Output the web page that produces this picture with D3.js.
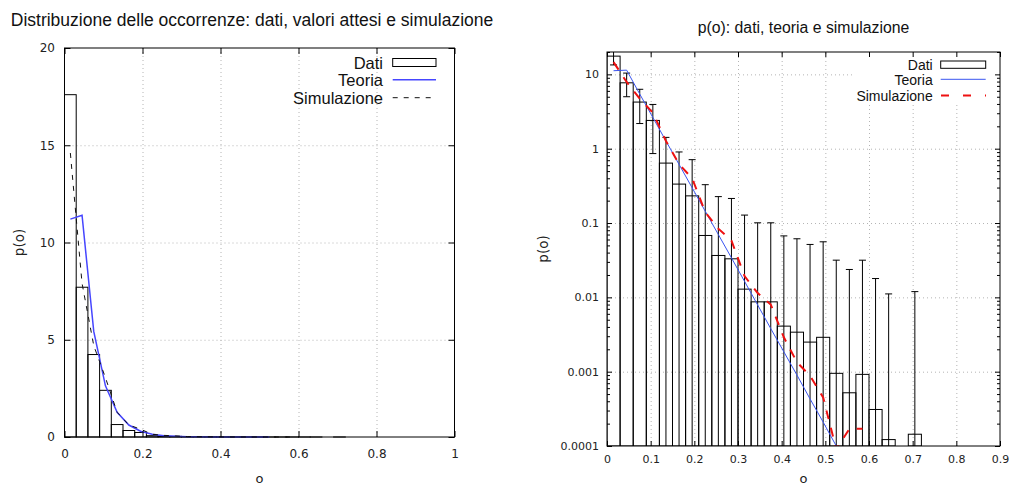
<!DOCTYPE html>
<html><head><meta charset="utf-8">
<script src="https://cdn.jsdelivr.net/npm/d3@7"></script>
<style>body{margin:0;background:#fff} svg{display:block}</style>
</head><body>
<svg id="c" width="1010" height="486"></svg>
<script>
// ---------- data ----------
const oCenters = [0.015,0.045,0.075,0.105,0.135,0.165,0.195,0.225,0.255,0.285,0.315,0.345,
                  0.375,0.405,0.435,0.465,0.495,0.525,0.555,0.585,0.615,0.645,0.675,0.705];
const binWidth = 0.03;
const dataValues = [17.6,7.7,4.24,2.4,0.64,0.334,0.232,0.068,0.0366,0.033,0.0129,0.0087,
                    0.0087,0.0041,0.0034,0.0025,0.0029,0.00095,0.00052,0.00092,0.00031,0.000122,0,0.000144];
const dataErrors = [4.2,2.7,2.06,1.54,0.78,0.57,0.48,0.26,0.19,0.181,0.115,0.092,
                    0.092,0.063,0.058,0.049,0.053,0.0307,0.0232,0.0307,0.0176,0.011,0,0.0118];
const theoryValues = [11.2,11.4,5.43,2.63,1.27,0.615,0.298,0.144,0.070,0.034,0.0164,0.0079,
                      0.0038,0.00185,0.0009,0.00043,0.00021,0.0001];
const simValues = [14.6,7.9,4.7,3.05,1.27,0.62,0.40,0.14,0.084,0.058,0.0193,0.0114,
                   0.008,0.0029,0.00134,0.00088,0.00045,0.00009,0.00017,0.00017];
const leftXTicks = [0,0.2,0.4,0.6,0.8,1];
const leftYTicks = [0,5,10,15,20];
const rightXTicks = [0,0.1,0.2,0.3,0.4,0.5,0.6,0.7,0.8,0.9];
const rightYTicks = [0.0001,0.001,0.01,0.1,1,10];
const rightYLabels = ["0.0001","0.001","0.01","0.1","1","10"];
const legendLabels = ["Dati","Teoria","Simulazione"];
const leftTitle = "Distribuzione delle occorrenze: dati, valori attesi e simulazione";
const rightTitle = "p(o): dati, teoria e simulazione";

// ---------- helpers ----------
const svg = d3.select("#c");
const TICKFONT = "DejaVu Sans";
const TEXTFONT = "Liberation Sans, Arial, sans-serif";
const GRID = "#b4b4b4";
function styleGrid(g){
  g.select(".domain").remove();
  g.selectAll("line").attr("stroke",GRID).attr("stroke-dasharray","1,3");
}
function styleAxis(g,size){
  g.select(".domain").remove();
  g.selectAll("line").attr("stroke","#000");
  g.attr("font-family",TICKFONT).attr("font-size",size);
  g.selectAll("text").attr("fill","#222");
}
const binData = oCenters.map((c,i)=>({c, v:dataValues[i], e:dataErrors[i]}));

// ================= LEFT CHART =================
(function(){
  const X0=64.5, X1=454.5, Y0=437, Y1=48;
  const x = d3.scaleLinear().domain([0,1]).range([X0,X1]);
  const y = d3.scaleLinear().domain([0,20]).range([Y0,Y1]);
  const g = svg.append("g");

  g.append("g").attr("transform",`translate(0,${Y0})`)
    .call(d3.axisBottom(x).tickValues(leftXTicks.slice(1,-1)).tickSize(-(Y0-Y1)).tickFormat(""))
    .call(styleGrid);
  g.append("g").attr("transform",`translate(${X0},0)`)
    .call(d3.axisLeft(y).tickValues(leftYTicks.slice(1,-1)).tickSize(-(X1-X0)).tickFormat(""))
    .call(styleGrid);

  g.append("g").selectAll("rect").data(binData.filter(d=>d.v>0)).join("rect")
    .attr("x",d=>x(d.c-binWidth/2)).attr("width",d=>x(d.c+binWidth/2)-x(d.c-binWidth/2))
    .attr("y",d=>y(d.v)).attr("height",d=>y(0)-y(d.v))
    .attr("fill","none").attr("stroke","#000").attr("stroke-width",1);

  const lineT = d3.line().x((d,i)=>x(oCenters[i])).y(d=>y(d));
  g.append("path").attr("d",lineT(theoryValues)).attr("fill","none")
    .attr("stroke","#4646ff").attr("stroke-width",1.5);
  g.append("path").attr("d",lineT(simValues)).attr("fill","none")
    .attr("stroke","#111").attr("stroke-width",1).attr("stroke-dasharray","5,6");

  g.append("rect").attr("x",X0).attr("y",Y1).attr("width",X1-X0).attr("height",Y0-Y1)
    .attr("fill","none").attr("stroke","#000");

  g.append("g").attr("transform",`translate(0,${Y0})`)
    .call(d3.axisBottom(x).tickValues(leftXTicks).tickSize(-6).tickPadding(12).tickFormat(d3.format("~g")))
    .call(a=>styleAxis(a,12));
  g.append("g").attr("transform",`translate(0,${Y1})`)
    .call(d3.axisTop(x).tickValues(leftXTicks).tickSize(-6).tickFormat(""))
    .call(a=>styleAxis(a,12));
  g.append("g").attr("transform",`translate(${X0},0)`)
    .call(d3.axisLeft(y).tickValues(leftYTicks).tickSize(-6).tickPadding(9.5).tickFormat(d3.format("~g")))
    .call(a=>styleAxis(a,12));
  g.append("g").attr("transform",`translate(${X1},0)`)
    .call(d3.axisRight(y).tickValues(leftYTicks).tickSize(-6).tickFormat(""))
    .call(a=>styleAxis(a,12));

  g.append("text").attr("x",252).attr("y",26).attr("text-anchor","middle")
    .attr("font-family",TEXTFONT).attr("font-size",17.5).attr("fill","#111").text(leftTitle);
  g.append("text").attr("x",(X0+X1)/2).attr("y",482.5).attr("text-anchor","middle")
    .attr("font-family",TICKFONT).attr("font-size",13).attr("fill","#222").text("o");
  g.append("text").attr("transform",`translate(24,${(Y0+Y1)/2}) rotate(-90)`).attr("text-anchor","middle")
    .attr("font-family",TICKFONT).attr("font-size",13.5).attr("fill","#222").text("p(o)");

  // legend
  const rows=[62.7,80.5,98.3];
  const lg = g.append("g").attr("font-family",TEXTFONT).attr("font-size",16.5).attr("fill","#111");
  legendLabels.forEach((t,i)=>lg.append("text").attr("x",383).attr("y",rows[i]+5.8).attr("text-anchor","end").text(t));
  lg.append("rect").attr("x",392.7).attr("y",58.5).attr("width",43.3).attr("height",8)
    .attr("fill","none").attr("stroke","#000");
  lg.append("line").attr("x1",392.7).attr("x2",436).attr("y1",rows[1]-0.8).attr("y2",rows[1]-0.8)
    .attr("stroke","#4646ff").attr("stroke-width",1.5);
  lg.append("line").attr("x1",392.7).attr("x2",436).attr("y1",rows[2]-0.6).attr("y2",rows[2]-0.6)
    .attr("stroke","#111").attr("stroke-dasharray","5,6");
})();

// ================= RIGHT CHART =================
(function(){
  const X0=607, X1=1000, Y0=446, Y1=52;
  const x = d3.scaleLinear().domain([0,0.9]).range([X0,X1]);
  const y = d3.scaleLog().domain([0.0001,20]).range([Y0,Y1]);
  const g = svg.append("g");

  svg.append("defs").append("clipPath").attr("id","clipR")
    .append("rect").attr("x",X0).attr("y",Y1).attr("width",X1-X0).attr("height",Y0-Y1);

  g.append("g").attr("transform",`translate(0,${Y0})`)
    .call(d3.axisBottom(x).tickValues(rightXTicks.slice(1,-1)).tickSize(-(Y0-Y1)).tickFormat(""))
    .call(styleGrid);
  g.append("g").attr("transform",`translate(${X0},0)`)
    .call(d3.axisLeft(y).tickValues(rightYTicks.slice(1)).tickSize(-(X1-X0)).tickFormat(""))
    .call(styleGrid);

  const pg = g.append("g").attr("clip-path","url(#clipR)");
  pg.append("g").selectAll("rect").data(binData.filter(d=>d.v>0)).join("rect")
    .attr("x",d=>x(d.c-binWidth/2)).attr("width",d=>x(d.c+binWidth/2)-x(d.c-binWidth/2))
    .attr("y",d=>y(d.v)).attr("height",d=>Y0-y(d.v))
    .attr("fill","none").attr("stroke","#000").attr("stroke-width",1);

  // error bars
  const eb = pg.append("g").attr("stroke","#000").attr("stroke-width",1);
  binData.filter(d=>d.v>0).forEach(d=>{
    const hi=d.v+d.e, lo=d.v-d.e;
    const yHi=y(hi), yLo= lo>0 ? y(lo) : Y0+20;
    const cx=x(d.c);
    eb.append("line").attr("x1",cx).attr("x2",cx).attr("y1",yHi).attr("y2",yLo);
    eb.append("line").attr("x1",cx-3.5).attr("x2",cx+3.5).attr("y1",yHi).attr("y2",yHi);
    if(lo>0) eb.append("line").attr("x1",cx-3.5).attr("x2",cx+3.5).attr("y1",yLo).attr("y2",yLo);
  });

  const lineT = d3.line().x((d,i)=>x(oCenters[i])).y(d=>y(d));
  pg.append("path").attr("d",lineT(theoryValues)).attr("fill","none")
    .attr("stroke","#3a55f0").attr("stroke-width",1);
  pg.append("path").attr("d",lineT(simValues)).attr("fill","none")
    .attr("stroke","#ee1111").attr("stroke-width",2).attr("stroke-dasharray","9,9");

  // legend background (opaque)
  g.append("rect").attr("x",855).attr("y",Y1+1).attr("width",X1-855-1).attr("height",50).attr("fill","#fff");

  g.append("rect").attr("x",X0).attr("y",Y1).attr("width",X1-X0).attr("height",Y0-Y1)
    .attr("fill","none").attr("stroke","#000");

  const minor = y.ticks().filter(v=>v<=20 && rightYTicks.indexOf(v)<0 && Math.abs(Math.log10(v)-Math.round(Math.log10(v)))>1e-6);
  g.append("g").attr("transform",`translate(0,${Y0})`)
    .call(d3.axisBottom(x).tickValues(rightXTicks).tickSize(-5).tickPadding(9.5).tickFormat(d3.format("~g")))
    .call(a=>styleAxis(a,11));
  g.append("g").attr("transform",`translate(0,${Y1})`)
    .call(d3.axisTop(x).tickValues(rightXTicks).tickSize(-5).tickFormat(""))
    .call(a=>styleAxis(a,11));
  g.append("g").attr("transform",`translate(${X0},0)`)
    .call(d3.axisLeft(y).tickValues(rightYTicks).tickSize(-5).tickPadding(8).tickFormat((d,i)=>rightYLabels[i]))
    .call(a=>styleAxis(a,11));
  g.append("g").attr("transform",`translate(${X1},0)`)
    .call(d3.axisRight(y).tickValues(rightYTicks).tickSize(-5).tickFormat(""))
    .call(a=>styleAxis(a,11));
  g.append("g").attr("transform",`translate(${X0},0)`)
    .call(d3.axisLeft(y).tickValues(minor).tickSize(-3).tickFormat(""))
    .call(a=>styleAxis(a,11));
  g.append("g").attr("transform",`translate(${X1},0)`)
    .call(d3.axisRight(y).tickValues(minor).tickSize(-3).tickFormat(""))
    .call(a=>styleAxis(a,11));

  g.append("text").attr("x",(X0+X1)/2).attr("y",33).attr("text-anchor","middle")
    .attr("font-family",TEXTFONT).attr("font-size",15.8).attr("fill","#111").text(rightTitle);
  g.append("text").attr("x",(X0+X1)/2).attr("y",482.5).attr("text-anchor","middle")
    .attr("font-family",TICKFONT).attr("font-size",13).attr("fill","#222").text("o");
  g.append("text").attr("transform",`translate(548,${(Y0+Y1)/2}) rotate(-90)`).attr("text-anchor","middle")
    .attr("font-family",TICKFONT).attr("font-size",13.5).attr("fill","#222").text("p(o)");

  const rows=[64.5,80,95.5];
  const lg = g.append("g").attr("font-family",TEXTFONT).attr("font-size",14).attr("fill","#111");
  legendLabels.forEach((t,i)=>lg.append("text").attr("x",932.7).attr("y",rows[i]+5).attr("text-anchor","end").text(t));
  lg.append("rect").attr("x",940.7).attr("y",61).attr("width",45).attr("height",7.3)
    .attr("fill","none").attr("stroke","#000");
  lg.append("line").attr("x1",940.7).attr("x2",985.7).attr("y1",rows[1]-0.7).attr("y2",rows[1]-0.7)
    .attr("stroke","#3a55f0").attr("stroke-width",1);
  lg.append("line").attr("x1",941).attr("x2",986).attr("y1",rows[2]).attr("y2",rows[2])
    .attr("stroke","#ee1111").attr("stroke-width",2).attr("stroke-dasharray","8,14");
})();
</script>
</body></html>
